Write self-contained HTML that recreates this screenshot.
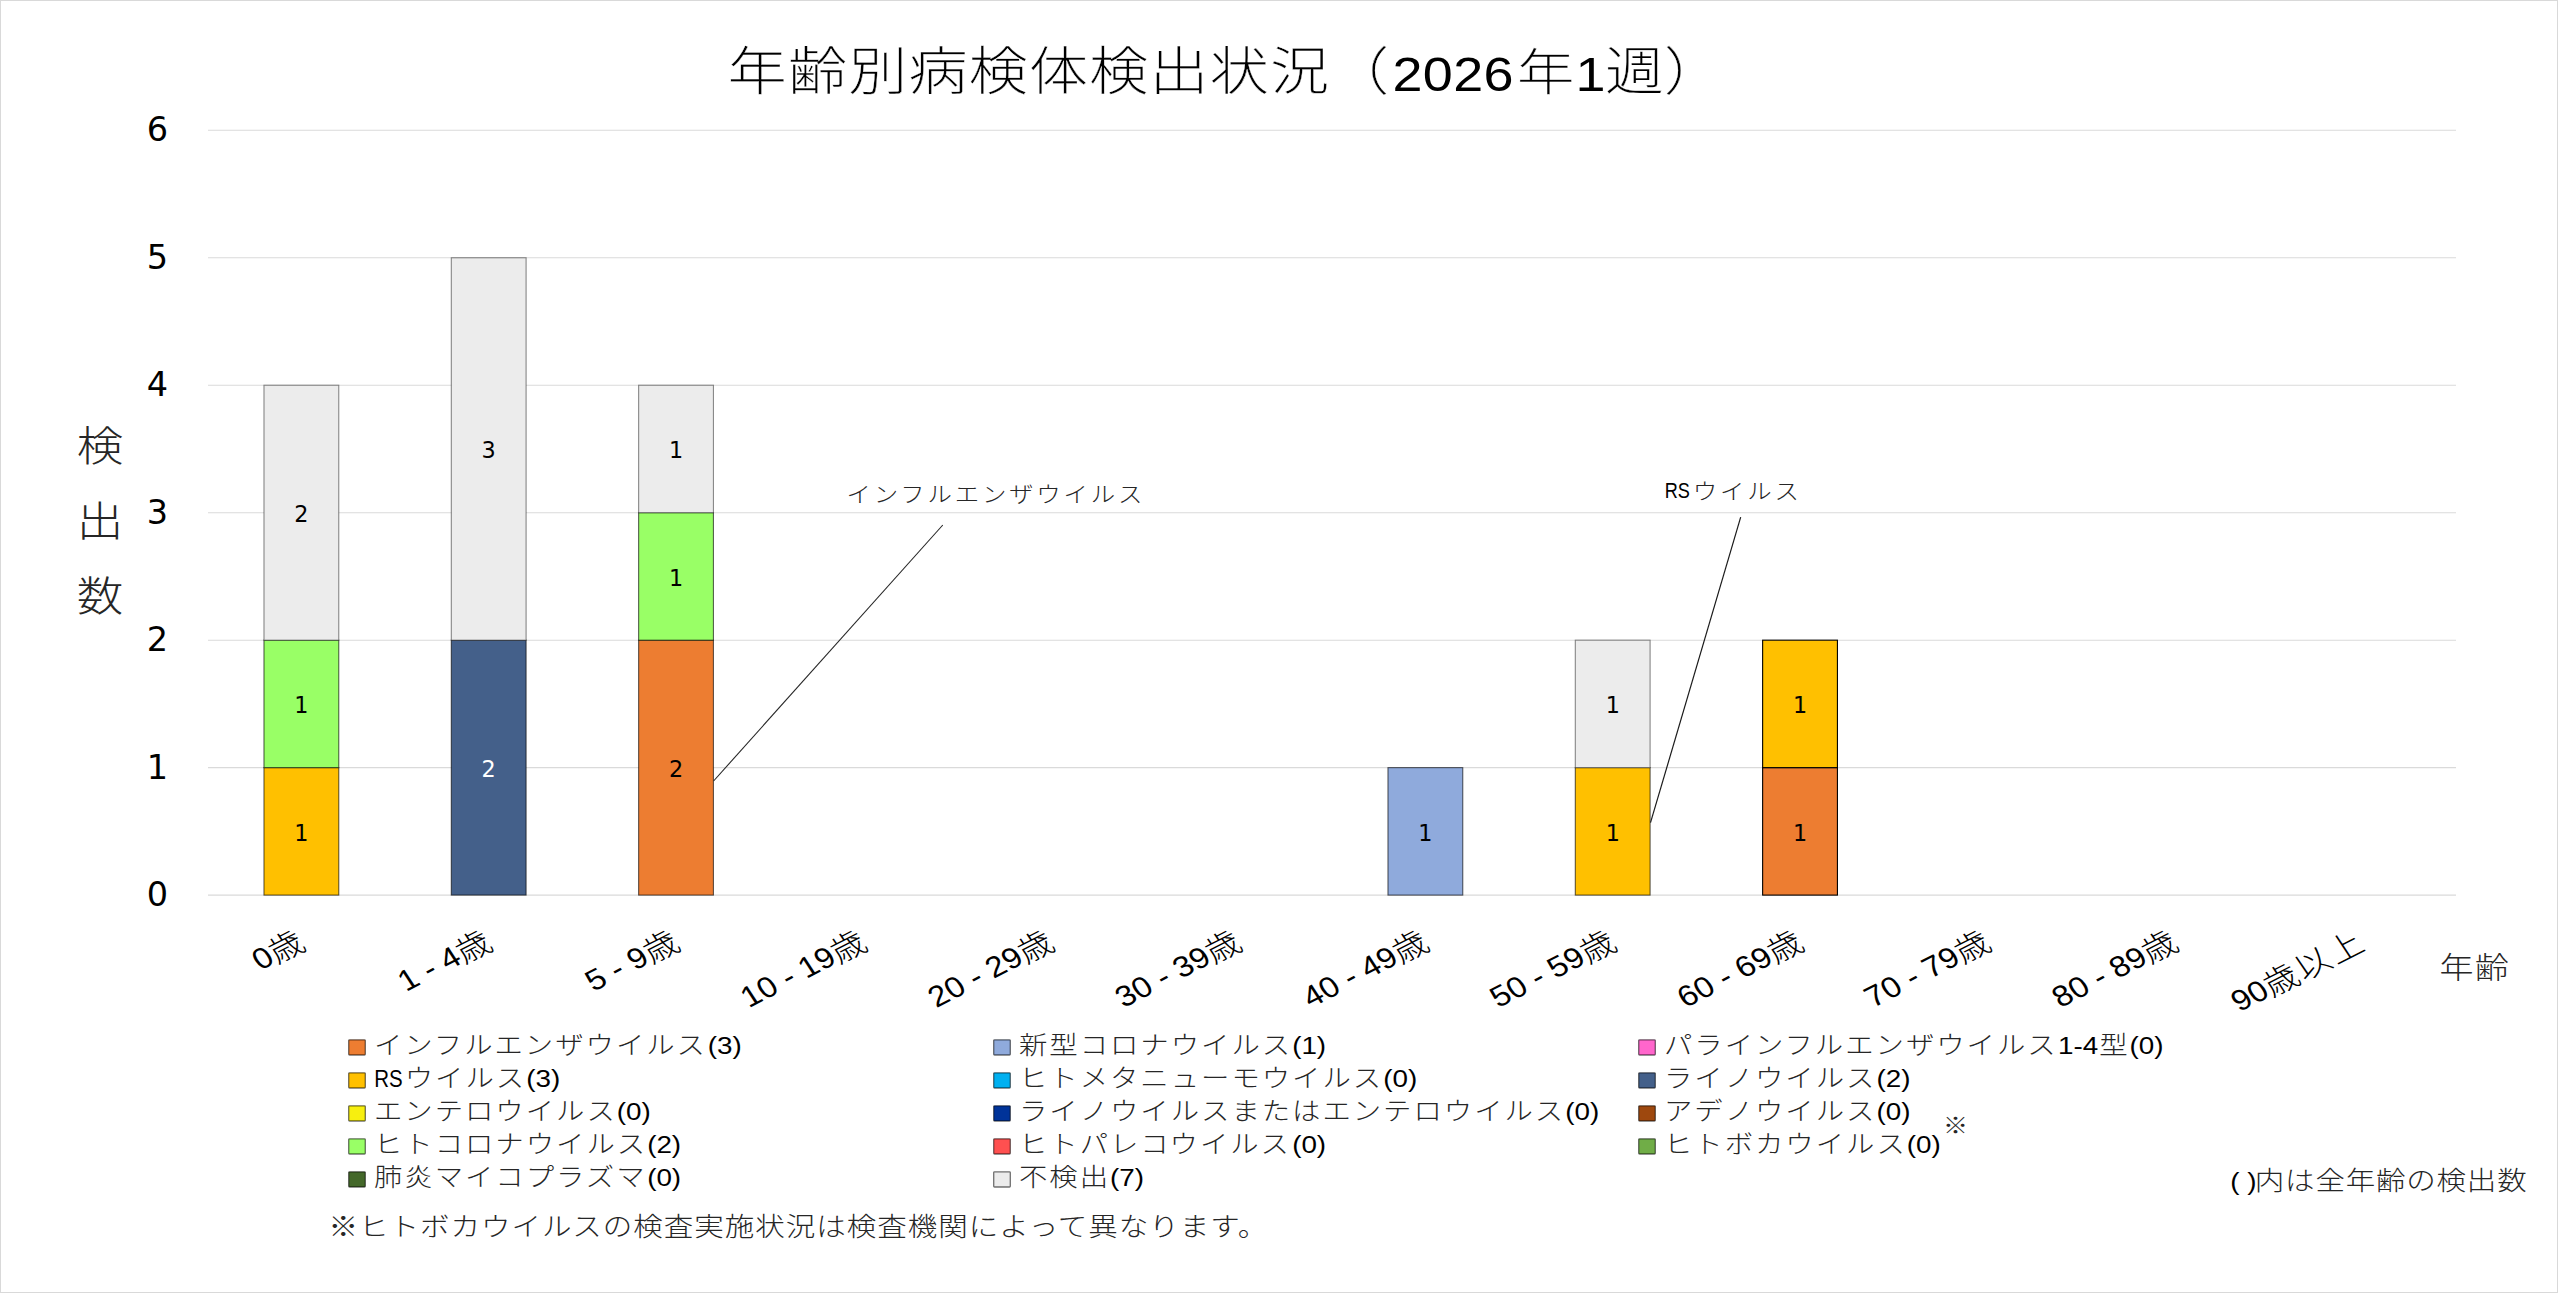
<!DOCTYPE html>
<html lang="ja"><head><meta charset="utf-8"><title>年齢別病検体検出状況</title>
<style>html,body{margin:0;padding:0;background:#fff}body{width:2559px;height:1294px;overflow:hidden}svg{display:block}
text{font-family:"Liberation Sans","Noto Sans CJK JP",sans-serif;fill:#000}.dv{font-family:"DejaVu Sans","Liberation Sans",sans-serif}.lt{font-weight:300}.g{fill:#262626}.w{fill:#fff}.la{font-weight:400;stroke:none;fill:#000}.tt{stroke:#fff;stroke-width:.3px}
</style></head><body>
<svg width="2559" height="1294" viewBox="0 0 2559 1294">
<rect x="0.5" y="0.5" width="2557" height="1292" fill="#fff" stroke="#d9d9d9" stroke-width="1"/>
<line x1="208.0" y1="895.10" x2="2456.0" y2="895.10" stroke="#dadada" stroke-width="1.05"/>
<line x1="208.0" y1="767.63" x2="2456.0" y2="767.63" stroke="#dadada" stroke-width="1.05"/>
<line x1="208.0" y1="640.17" x2="2456.0" y2="640.17" stroke="#dadada" stroke-width="1.05"/>
<line x1="208.0" y1="512.70" x2="2456.0" y2="512.70" stroke="#dadada" stroke-width="1.05"/>
<line x1="208.0" y1="385.23" x2="2456.0" y2="385.23" stroke="#dadada" stroke-width="1.05"/>
<line x1="208.0" y1="257.77" x2="2456.0" y2="257.77" stroke="#dadada" stroke-width="1.05"/>
<line x1="208.0" y1="130.30" x2="2456.0" y2="130.30" stroke="#dadada" stroke-width="1.05"/>
<rect x="263.97" y="767.63" width="74.80" height="127.47" fill="#FFC000" stroke="rgba(0,0,0,.62)" stroke-width="1.1"/>
<rect x="263.97" y="640.17" width="74.80" height="127.47" fill="#99FF66" stroke="rgba(0,0,0,.62)" stroke-width="1.1"/>
<rect x="263.97" y="385.23" width="74.80" height="254.93" fill="#ECECEC" stroke="rgba(0,0,0,.45)" stroke-width="1.1"/>
<rect x="451.30" y="640.17" width="74.80" height="254.93" fill="#44608A" stroke="rgba(0,0,0,.62)" stroke-width="1.1"/>
<rect x="451.30" y="257.77" width="74.80" height="382.40" fill="#ECECEC" stroke="rgba(0,0,0,.45)" stroke-width="1.1"/>
<rect x="638.63" y="640.17" width="74.80" height="254.93" fill="#ED7D31" stroke="rgba(0,0,0,.62)" stroke-width="1.1"/>
<rect x="638.63" y="512.70" width="74.80" height="127.47" fill="#99FF66" stroke="rgba(0,0,0,.62)" stroke-width="1.1"/>
<rect x="638.63" y="385.23" width="74.80" height="127.47" fill="#ECECEC" stroke="rgba(0,0,0,.45)" stroke-width="1.1"/>
<rect x="1387.97" y="767.63" width="74.80" height="127.47" fill="#8FAADC" stroke="rgba(0,0,0,.62)" stroke-width="1.1"/>
<rect x="1575.30" y="767.63" width="74.80" height="127.47" fill="#FFC000" stroke="rgba(0,0,0,.62)" stroke-width="1.1"/>
<rect x="1575.30" y="640.17" width="74.80" height="127.47" fill="#ECECEC" stroke="rgba(0,0,0,.45)" stroke-width="1.1"/>
<rect x="1762.63" y="767.63" width="74.80" height="127.47" fill="#ED7D31" stroke="#000" stroke-width="1.1"/>
<rect x="1762.63" y="640.17" width="74.80" height="127.47" fill="#FFC000" stroke="#000" stroke-width="1.1"/>
<line x1="942.8" y1="525" x2="713.6" y2="781" stroke="#262626" stroke-width="1.1"/>
<line x1="1740.7" y1="517.2" x2="1650.5" y2="822.7" stroke="#1a1a1a" stroke-width="1.2"/>
<rect x="348.7" y="1039.8" width="16.6" height="15.2" rx="0.8" fill="#ED7D31" stroke="rgba(0,0,0,0.55)" stroke-width="1.3"/>
<rect x="348.7" y="1072.8" width="16.6" height="15.2" rx="0.8" fill="#FFC000" stroke="rgba(0,0,0,0.55)" stroke-width="1.3"/>
<rect x="348.7" y="1105.8" width="16.6" height="15.2" rx="0.8" fill="#F7EF0F" stroke="rgba(0,0,0,0.55)" stroke-width="1.3"/>
<rect x="348.7" y="1138.8" width="16.6" height="15.2" rx="0.8" fill="#99FF66" stroke="rgba(0,0,0,0.55)" stroke-width="1.3"/>
<rect x="348.7" y="1171.8" width="16.6" height="15.2" rx="0.8" fill="#44682A" stroke="rgba(0,0,0,0.55)" stroke-width="1.3"/>
<rect x="993.7" y="1039.8" width="16.6" height="15.2" rx="0.8" fill="#8FAADC" stroke="rgba(0,0,0,0.55)" stroke-width="1.3"/>
<rect x="993.7" y="1072.8" width="16.6" height="15.2" rx="0.8" fill="#00B0F0" stroke="rgba(0,0,0,0.55)" stroke-width="1.3"/>
<rect x="993.7" y="1105.8" width="16.6" height="15.2" rx="0.8" fill="#003399" stroke="rgba(0,0,0,0.55)" stroke-width="1.3"/>
<rect x="993.7" y="1138.8" width="16.6" height="15.2" rx="0.8" fill="#FF5050" stroke="rgba(0,0,0,0.55)" stroke-width="1.3"/>
<rect x="993.7" y="1171.8" width="16.6" height="15.2" rx="0.8" fill="#ECECEC" stroke="rgba(0,0,0,0.55)" stroke-width="1.3"/>
<rect x="1638.7" y="1039.8" width="16.6" height="15.2" rx="0.8" fill="#FF66CC" stroke="rgba(0,0,0,0.55)" stroke-width="1.3"/>
<rect x="1638.7" y="1072.8" width="16.6" height="15.2" rx="0.8" fill="#44608A" stroke="rgba(0,0,0,0.55)" stroke-width="1.3"/>
<rect x="1638.7" y="1105.8" width="16.6" height="15.2" rx="0.8" fill="#9E480E" stroke="rgba(0,0,0,0.55)" stroke-width="1.3"/>
<rect x="1638.7" y="1138.8" width="16.6" height="15.2" rx="0.8" fill="#70AD47" stroke="rgba(0,0,0,0.55)" stroke-width="1.3"/>
<g transform="scale(1.135,1)">
<text transform="scale(0.8811,1)" x="168.00" y="906.30" font-size="33.50" class="dv" text-anchor="end">0</text>
<text transform="scale(0.8811,1)" x="168.00" y="778.83" font-size="33.50" class="dv" text-anchor="end">1</text>
<text transform="scale(0.8811,1)" x="168.00" y="651.37" font-size="33.50" class="dv" text-anchor="end">2</text>
<text transform="scale(0.8811,1)" x="168.00" y="523.90" font-size="33.50" class="dv" text-anchor="end">3</text>
<text transform="scale(0.8811,1)" x="168.00" y="396.43" font-size="33.50" class="dv" text-anchor="end">4</text>
<text transform="scale(0.8811,1)" x="168.00" y="268.97" font-size="33.50" class="dv" text-anchor="end">5</text>
<text transform="scale(0.8811,1)" x="168.00" y="141.50" font-size="33.50" class="dv" text-anchor="end">6</text>
<text transform="scale(0.8811,1)" x="301.37" y="840.67" font-size="22.30" class="dv" text-anchor="middle">1</text>
<text transform="scale(0.8811,1)" x="301.37" y="713.20" font-size="22.30" class="dv" text-anchor="middle">1</text>
<text transform="scale(0.8811,1)" x="301.37" y="522.00" font-size="22.30" class="dv" text-anchor="middle">2</text>
<text transform="scale(0.8811,1)" x="488.70" y="776.93" font-size="22.30" class="dv w" text-anchor="middle">2</text>
<text transform="scale(0.8811,1)" x="488.70" y="458.27" font-size="22.30" class="dv" text-anchor="middle">3</text>
<text transform="scale(0.8811,1)" x="676.03" y="776.93" font-size="22.30" class="dv" text-anchor="middle">2</text>
<text transform="scale(0.8811,1)" x="676.03" y="585.73" font-size="22.30" class="dv" text-anchor="middle">1</text>
<text transform="scale(0.8811,1)" x="676.03" y="458.27" font-size="22.30" class="dv" text-anchor="middle">1</text>
<text transform="scale(0.8811,1)" x="1425.37" y="840.67" font-size="22.30" class="dv" text-anchor="middle">1</text>
<text transform="scale(0.8811,1)" x="1612.70" y="840.67" font-size="22.30" class="dv" text-anchor="middle">1</text>
<text transform="scale(0.8811,1)" x="1612.70" y="713.20" font-size="22.30" class="dv" text-anchor="middle">1</text>
<text transform="scale(0.8811,1)" x="1800.03" y="840.67" font-size="22.30" class="dv" text-anchor="middle">1</text>
<text transform="scale(0.8811,1)" x="1800.03" y="713.20" font-size="22.30" class="dv" text-anchor="middle">1</text>
<text y="90" font-size="52" class="lt tt"><tspan x="641.23" letter-spacing="1.1">年齢別病検体検出状況</tspan><tspan x="1171.81">（</tspan><tspan class="la" x="1226.87" y="91" font-size="47.5" letter-spacing="0.3">2026</tspan><tspan x="1336.56" y="90" font-size="50.5">年</tspan><tspan class="la" x="1388.11" y="91" font-size="47.5">1</tspan><tspan x="1414.10" y="90">週</tspan><tspan x="1466.08">）</tspan></text>
<text class="lt g" font-size="41" text-anchor="middle"><tspan x="88.11" y="461.5">検</tspan><tspan x="88.11" y="536.5">出</tspan><tspan x="88.11" y="611.5">数</tspan></text>
<text x="270.19" y="947.2" font-size="29.2" text-anchor="end" transform="rotate(-30 270.19 947.2)">0<tspan class="lt" font-size="31" dy="1.5">歳</tspan></text>
<text x="435.24" y="947.2" font-size="29.2" text-anchor="end" transform="rotate(-30 435.24 947.2)">1 - 4<tspan class="lt" font-size="31" dy="1.5">歳</tspan></text>
<text x="600.29" y="947.2" font-size="29.2" text-anchor="end" transform="rotate(-30 600.29 947.2)">5 - 9<tspan class="lt" font-size="31" dy="1.5">歳</tspan></text>
<text x="765.35" y="947.2" font-size="29.2" text-anchor="end" transform="rotate(-30 765.35 947.2)">10 - 19<tspan class="lt" font-size="31" dy="1.5">歳</tspan></text>
<text x="930.40" y="947.2" font-size="29.2" text-anchor="end" transform="rotate(-30 930.40 947.2)">20 - 29<tspan class="lt" font-size="31" dy="1.5">歳</tspan></text>
<text x="1095.45" y="947.2" font-size="29.2" text-anchor="end" transform="rotate(-30 1095.45 947.2)">30 - 39<tspan class="lt" font-size="31" dy="1.5">歳</tspan></text>
<text x="1260.50" y="947.2" font-size="29.2" text-anchor="end" transform="rotate(-30 1260.50 947.2)">40 - 49<tspan class="lt" font-size="31" dy="1.5">歳</tspan></text>
<text x="1425.55" y="947.2" font-size="29.2" text-anchor="end" transform="rotate(-30 1425.55 947.2)">50 - 59<tspan class="lt" font-size="31" dy="1.5">歳</tspan></text>
<text x="1590.60" y="947.2" font-size="29.2" text-anchor="end" transform="rotate(-30 1590.60 947.2)">60 - 69<tspan class="lt" font-size="31" dy="1.5">歳</tspan></text>
<text x="1755.65" y="947.2" font-size="29.2" text-anchor="end" transform="rotate(-30 1755.65 947.2)">70 - 79<tspan class="lt" font-size="31" dy="1.5">歳</tspan></text>
<text x="1920.70" y="947.2" font-size="29.2" text-anchor="end" transform="rotate(-30 1920.70 947.2)">80 - 89<tspan class="lt" font-size="31" dy="1.5">歳</tspan></text>
<text x="2085.76" y="947.2" font-size="29.2" text-anchor="end" transform="rotate(-30 2085.76 947.2)">90<tspan class="lt" font-size="31" dy="1.5" letter-spacing="1.6">歳以上</tspan></text>
<text x="2149.34" y="977.70" font-size="30.00" class="lt g" letter-spacing="1.00">年齢</text>
<text x="745.81" y="502.20" font-size="21.50" class="lt g" letter-spacing="2.50">インフルエンザウイルス</text>
<text y="498.3" font-size="21.8"><tspan class="la" x="1466.78" textLength="22.15" lengthAdjust="spacingAndGlyphs">RS</tspan><tspan class="lt g" x="1491.45" y="499.3" font-size="21.5" letter-spacing="2.5">ウイルス</tspan></text>
<text y="1054.0" font-size="24.5"><tspan class="lt g" x="329.52" font-size="25" letter-spacing="1.74">インフルエンザウイルス</tspan><tspan x="623.66">(3)</tspan></text>
<text y="1087.0" font-size="24.5"><tspan x="329.69" textLength="25.04" lengthAdjust="spacingAndGlyphs">RS</tspan><tspan class="lt g" x="356.65" font-size="25" letter-spacing="1.74">ウイルス</tspan><tspan x="463.61">(3)</tspan></text>
<text y="1120.0" font-size="24.5"><tspan class="lt g" x="329.52" font-size="25" letter-spacing="1.74">エンテロウイルス</tspan><tspan x="543.44">(0)</tspan></text>
<text y="1153.0" font-size="24.5"><tspan class="lt g" x="329.52" font-size="25" letter-spacing="1.74">ヒトコロナウイルス</tspan><tspan x="570.18">(2)</tspan></text>
<text y="1186.0" font-size="24.5"><tspan class="lt g" x="329.52" font-size="25" letter-spacing="1.74">肺炎マイコプラズマ</tspan><tspan x="570.18">(0)</tspan></text>
<text y="1054.0" font-size="24.5"><tspan class="lt g" x="897.80" font-size="25" letter-spacing="1.74">新型コロナウイルス</tspan><tspan x="1138.46">(1)</tspan></text>
<text y="1087.0" font-size="24.5"><tspan class="lt g" x="897.80" font-size="25" letter-spacing="1.74">ヒトメタニューモウイルス</tspan><tspan x="1218.68">(0)</tspan></text>
<text y="1120.0" font-size="24.5"><tspan class="lt g" x="897.80" font-size="25" letter-spacing="1.74">ライノウイルスまたはエンテロウイルス</tspan><tspan x="1379.12">(0)</tspan></text>
<text y="1153.0" font-size="24.5"><tspan class="lt g" x="897.80" font-size="25" letter-spacing="1.74">ヒトパレコウイルス</tspan><tspan x="1138.46">(0)</tspan></text>
<text y="1186.0" font-size="24.5"><tspan class="lt g" x="897.80" font-size="25" letter-spacing="1.74">不検出</tspan><tspan x="978.02">(7)</tspan></text>
<text y="1054.0" font-size="24.5"><tspan class="lt g" x="1466.08" font-size="25" letter-spacing="1.74">パラインフルエンザウイルス</tspan><tspan x="1813.26">1-4</tspan><tspan class="lt g" font-size="25" dx="1">型</tspan><tspan dx="1.5">(0)</tspan></text>
<text y="1087.0" font-size="24.5"><tspan class="lt g" x="1466.08" font-size="25" letter-spacing="1.74">ライノウイルス</tspan><tspan x="1653.26">(2)</tspan></text>
<text y="1120.0" font-size="24.5"><tspan class="lt g" x="1466.08" font-size="25" letter-spacing="1.74">アデノウイルス</tspan><tspan x="1653.26">(0)</tspan></text>
<text y="1153.0" font-size="24.5"><tspan class="lt g" x="1466.08" font-size="25" letter-spacing="1.74">ヒトボカウイルス</tspan><tspan x="1680.00">(0)</tspan></text>
<text x="1711.89" y="1133.50" font-size="22.00" class="g">※</text>
<text x="1965.02" y="1189.7" font-size="24.5">( )<tspan class="lt g" font-size="26" letter-spacing="0.7" dx="-1.5">内は全年齢の検出数</tspan></text>
<text x="289.43" y="1236.00" font-size="26.00" class="lt g" letter-spacing="0.87">※ヒトボカウイルスの検査実施状況は検査機関によって異なります。</text>
</g>
</svg></body></html>
